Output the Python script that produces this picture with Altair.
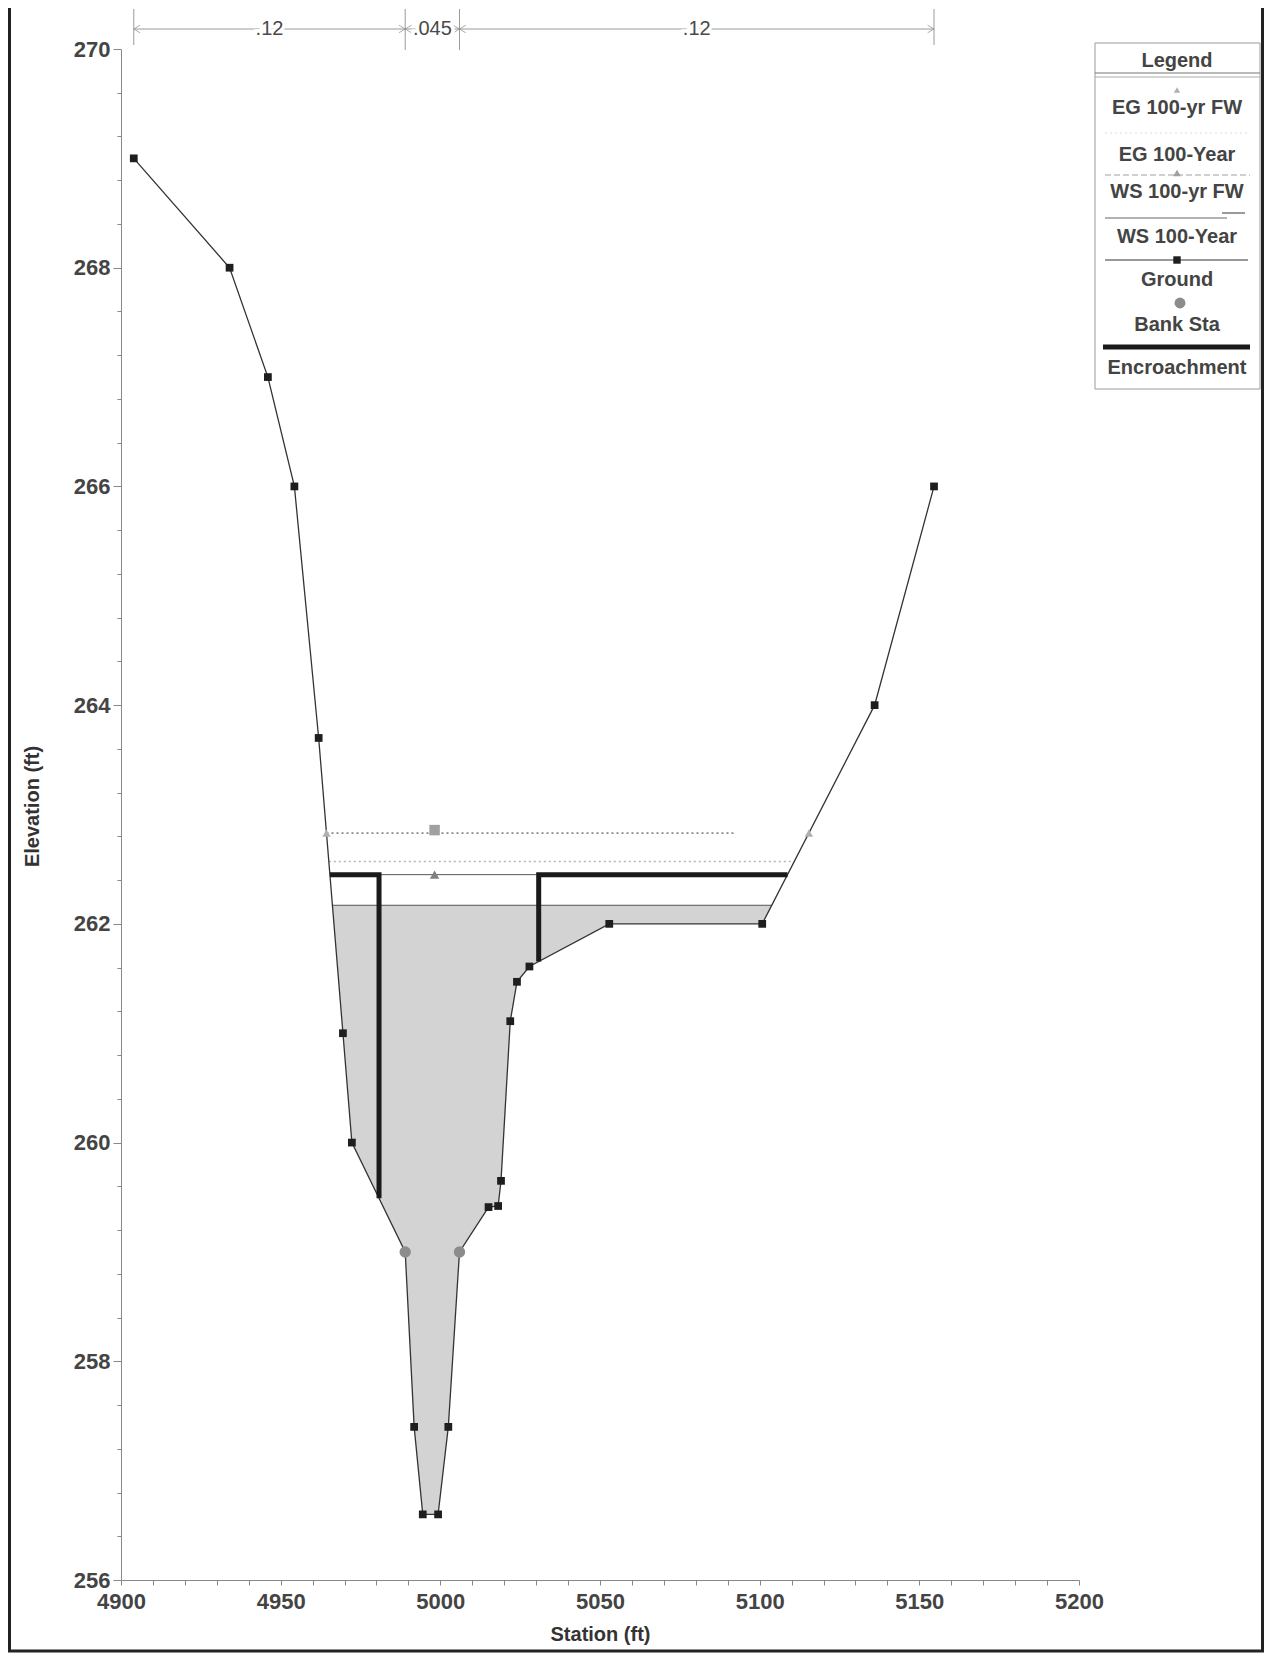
import altair as alt
import numpy as np
import pandas as pd

# ---------------- data ----------------
ground_sta = [4904, 4934, 4946, 4954.3, 4961.9, 4969.5, 4972.3, 4989, 4991.8, 4994.5,
              4999.3, 5002.5, 5006, 5015.1, 5018.1, 5019.0, 5021.9, 5024.0, 5027.9,
              5052.9, 5100.8, 5136, 5154.6]
ground_elev = [269, 268, 267, 266, 263.7, 261, 260, 259, 257.4, 256.6,
               256.6, 257.4, 259, 259.41, 259.42, 259.65, 261.11, 261.47, 261.61,
               262, 262, 264, 266]
bank_sta = [4989, 5006]
bank_elev = [259, 259]

ws_100yr = 262.17      # WS 100-Year
ws_fw = 262.45         # WS 100-yr FW
eg_100yr = 262.57      # EG 100-Year
eg_fw = 262.83         # EG 100-yr FW
eg_fw_end = 5092       # visible right end of the EG FW dotted line
enc_left = 4980.8
enc_right = 5030.8
ws_fw_marker_sta = 4998.2
eg_fw_marker_sta = 4998.2

n_labels = [".12", ".045", ".12"]
n_breaks = [4904, 4989, 5006, 5154.6]

x_domain = [4900, 5200]
y_domain = [256, 270]
x_tick_vals = list(range(4900, 5201, 10))
y_tick_vals = [round(256 + 0.4 * i, 1) for i in range(36)]

legend_labels = ["EG 100-yr FW", "EG 100-Year", "WS 100-yr FW", "WS 100-Year",
                 "Ground", "Bank Sta", "Encroachment"]

# ---------------- helpers ----------------
sta = np.array(ground_sta, dtype=float)
elv = np.array(ground_elev, dtype=float)


def cross(level, side):
    if side == "left":
        for i in range(len(sta) - 1):
            e0, e1 = elv[i], elv[i + 1]
            if e0 >= level > e1:
                return sta[i] + (e0 - level) / (e0 - e1) * (sta[i + 1] - sta[i])
    else:
        for i in range(len(sta) - 2, -1, -1):
            e0, e1 = elv[i], elv[i + 1]
            if e1 >= level > e0:
                return sta[i] + (level - e0) / (e1 - e0) * (sta[i + 1] - sta[i])
    return None


def gat(x):
    return float(np.interp(x, sta, elv))


W, H = 958, 1531
xs = alt.Scale(domain=x_domain, nice=False, zero=False)
ys = alt.Scale(domain=y_domain, nice=False, zero=False)
FONT = "Liberation Sans"
TXT = "#444444"

x_axis = alt.Axis(values=x_tick_vals, labelExpr="datum.value % 50 === 0 ? datum.label : ''",
                  grid=False, tickSize=5, tickColor="#888", domainColor="#888",
                  labelFont=FONT, labelFontSize=22, labelFontWeight="bold", labelColor=TXT,
                  labelPadding=6, labelOverlap=False, labelFlush=False,
                  title="Station (ft)", titleFont=FONT, titleFontSize=20, titleFontWeight="bold",
                  titleColor="#333", titleX=W / 2, titleY=54, titleAlign="center",
                  titleBaseline="middle", format="d")
y_axis = alt.Axis(values=y_tick_vals, labelExpr="datum.value % 2 === 0 ? datum.label : ''",
                  grid=False,
                  tickSize={"condition": {"test": "datum.value % 2 === 0", "value": 8}, "value": 4},
                  tickColor="#888", domainColor="#888",
                  labelFont=FONT, labelFontSize=22, labelFontWeight="bold", labelColor=TXT,
                  labelPadding=3, labelOverlap=False, labelFlush=False, format=".0f",
                  title="Elevation (ft)", titleFont=FONT, titleFontSize=20, titleFontWeight="bold",
                  titleColor="#333", titleX=-89, titleY=757, titleAngle=270, titleAlign="center",
                  titleBaseline="middle")


def X(f):
    return alt.X(f, scale=xs, axis=x_axis)


def Y(f):
    return alt.Y(f, scale=ys, axis=y_axis)


# water area
wl, wr = cross(ws_100yr, "left"), cross(ws_100yr, "right")
area_x = [wl] + [s for s in ground_sta if wl < s < wr] + [wr]
area_y = [ws_100yr] + [e for s, e in zip(ground_sta, ground_elev) if wl < s < wr] + [ws_100yr]
water = pd.DataFrame({"x": area_x, "y": area_y, "y2": ws_100yr})

ground = pd.DataFrame({"x": ground_sta, "y": ground_elev})
ground_pts = ground[~ground["x"].isin(bank_sta)]
banks = pd.DataFrame({"x": bank_sta, "y": bank_elev})

layers = []

# water
layers.append(alt.Chart(water).mark_area(color="#d3d3d3", opacity=1).encode(
    x=X("x:Q"), y=Y("y:Q"), y2="y2:Q"))

# WS 100-Year line
layers.append(alt.Chart(pd.DataFrame({"x": [wl], "x2": [wr], "y": [ws_100yr]})).mark_rule(
    color="#555", strokeWidth=1).encode(x=X("x:Q"), x2="x2:Q", y=Y("y:Q")))

# EG 100-Year dotted
layers.append(alt.Chart(pd.DataFrame({"x": [cross(eg_100yr, "left")], "x2": [cross(eg_100yr, "right")],
                                      "y": [eg_100yr]})).mark_rule(
    color="#b5b5b5", strokeWidth=1.6, strokeDash=[2, 3]).encode(x=X("x:Q"), x2="x2:Q", y=Y("y:Q")))

# EG 100-yr FW dotted
layers.append(alt.Chart(pd.DataFrame({"x": [cross(eg_fw, "left")], "x2": [eg_fw_end],
                                      "y": [eg_fw]})).mark_rule(
    color="#8a8a8a", strokeWidth=1.6, strokeDash=[2, 3]).encode(x=X("x:Q"), x2="x2:Q", y=Y("y:Q")))

# WS 100-yr FW line between encroachments
layers.append(alt.Chart(pd.DataFrame({"x": [enc_left], "x2": [enc_right], "y": [ws_fw]})).mark_rule(
    color="#555", strokeWidth=1).encode(x=X("x:Q"), x2="x2:Q", y=Y("y:Q")))

# Ground line & points
layers.append(alt.Chart(ground).mark_line(color="#333", strokeWidth=1.3).encode(
    x=X("x:Q"), y=Y("y:Q")))
layers.append(alt.Chart(ground_pts).mark_square(color="#1e1e1e", size=60, opacity=1).encode(
    x=X("x:Q"), y=Y("y:Q")))

# Encroachments
lfw, rfw = cross(ws_fw, "left"), cross(ws_fw, "right")
enc = pd.DataFrame({
    "x": [lfw, enc_left, enc_left, enc_right, enc_right, rfw],
    "y": [ws_fw, ws_fw, gat(enc_left), gat(enc_right), ws_fw, ws_fw],
    "g": ["L", "L", "L", "R", "R", "R"],
    "o": [0, 1, 2, 0, 1, 2]})
layers.append(alt.Chart(enc).mark_line(color="#1a1a1a", strokeWidth=5, strokeJoin="miter").encode(
    x=X("x:Q"), y=Y("y:Q"), detail="g:N", order="o:Q"))

# Bank stations
layers.append(alt.Chart(banks).mark_circle(color="#8c8c8c", size=130, opacity=1).encode(
    x=X("x:Q"), y=Y("y:Q")))

# markers
tri = pd.DataFrame({"x": [ws_fw_marker_sta], "y": [ws_fw]})
layers.append(alt.Chart(tri).mark_point(shape="triangle-up", filled=True, color="#808080", size=90,
                                        opacity=1).encode(x=X("x:Q"), y=Y("y:Q")))
eg_tri = pd.DataFrame({"x": [cross(eg_fw, "left"), cross(eg_fw, "right")], "y": [eg_fw, eg_fw]})
layers.append(alt.Chart(eg_tri).mark_point(shape="triangle-up", filled=True, color="#b0b0b0", size=70,
                                           opacity=1).encode(x=X("x:Q"), y=Y("y:Q")))
sq = pd.DataFrame({"x": [eg_fw_marker_sta], "y": [eg_fw]})
layers.append(alt.Chart(sq).mark_square(color="#a0a0a0", size=110, opacity=1).encode(
    x=X("x:Q"), y=Y("y:Q"), yOffset=alt.value(-3)))

# ---------------- Manning's n annotation ----------------
ny = -20
outer = pd.DataFrame({"x": [n_breaks[0], n_breaks[-1]]})
inner = pd.DataFrame({"x": n_breaks[1:-1]})
layers.append(alt.Chart(outer).mark_rule(color="#9a9a9a", strokeWidth=1).encode(
    x=X("x:Q"), y=alt.value(-40), y2=alt.value(-4)))
layers.append(alt.Chart(inner).mark_rule(color="#9a9a9a", strokeWidth=1).encode(
    x=X("x:Q"), y=alt.value(-40), y2=alt.value(1)))
spans = pd.DataFrame({"a": n_breaks[:-1], "b": n_breaks[1:], "lab": n_labels})
spans["mid"] = (spans["a"] + spans["b"]) / 2
layers.append(alt.Chart(spans).mark_rule(color="#9a9a9a", strokeWidth=1).encode(
    x=X("a:Q"), x2="b:Q", y=alt.value(ny)))
layers.append(alt.Chart(spans).mark_point(shape="M 1 -0.6 L 0 0 L 1 0.6", filled=False,
                                          color="#8a8a8a", size=160, strokeWidth=1).encode(
    x=X("a:Q"), y=alt.value(ny)))
layers.append(alt.Chart(spans).mark_point(shape="M -1 -0.6 L 0 0 L -1 0.6", filled=False,
                                          color="#8a8a8a", size=160, strokeWidth=1).encode(
    x=X("b:Q"), y=alt.value(ny)))
layers.append(alt.Chart(spans).mark_text(font=FONT, fontSize=20, color="white", stroke="white",
                                         strokeWidth=7, baseline="middle").encode(
    x=X("mid:Q"), y=alt.value(ny), text="lab:N"))
layers.append(alt.Chart(spans).mark_text(font=FONT, fontSize=20, color="#4a4a4a",
                                         baseline="middle").encode(
    x=X("mid:Q"), y=alt.value(ny), text="lab:N"))

# ---------------- Legend (drawn by hand, in pixels) ----------------
one = pd.DataFrame({"k": [0]})
LX0, LX1, LC = 974, 1139, 1056


def prule(x1, x2, y, color, width, dash=None):
    kw = dict(color=color, strokeWidth=width)
    if dash:
        kw["strokeDash"] = dash
    return alt.Chart(one).mark_rule(**kw).encode(x=alt.value(x1), x2=alt.value(x2), y=alt.value(y))


layers.append(alt.Chart(one).mark_rect(fill="white", stroke="#9a9a9a", strokeWidth=1).encode(
    x=alt.value(LX0), x2=alt.value(LX1), y=alt.value(-6), y2=alt.value(340)))
layers.append(prule(LX0, LX1, 24, "#777", 1))
layers.append(prule(LX0, LX1, 28, "#aaa", 1))
layers.append(alt.Chart(one).mark_text(text="Legend", font=FONT, fontSize=20, fontWeight="bold",
                                       color=TXT, baseline="middle").encode(
    x=alt.value(LC), y=alt.value(11.5)))
label_y = [59, 106, 143, 188, 231, 276, 319]
for lab, yy in zip(legend_labels, label_y):
    layers.append(alt.Chart(one).mark_text(text=lab, font=FONT, fontSize=20, fontWeight="bold",
                                           color=TXT, baseline="middle").encode(
        x=alt.value(LC), y=alt.value(yy)))
# symbols
layers.append(alt.Chart(one).mark_point(shape="triangle-up", filled=True, color="#b0b0b0", size=40,
                                        opacity=1).encode(x=alt.value(LC), y=alt.value(41)))
layers.append(prule(984, 1129, 84, "#dddddd", 1.2, [2, 3]))
layers.append(prule(984, 1129, 126, "#a0a0a0", 1.2, [6, 3]))
layers.append(alt.Chart(one).mark_point(shape="triangle-up", filled=True, color="#a0a0a0", size=60,
                                        opacity=1).encode(x=alt.value(LC), y=alt.value(124)))
layers.append(prule(1101, 1124, 164, "#9a9a9a", 2))
layers.append(prule(984, 1106, 169, "#666", 1))
layers.append(prule(984, 1127, 211, "#333", 1))
layers.append(alt.Chart(one).mark_square(color="#1e1e1e", size=55, opacity=1).encode(
    x=alt.value(LC), y=alt.value(211)))
layers.append(alt.Chart(one).mark_circle(color="#8c8c8c", size=120, opacity=1).encode(
    x=alt.value(LC + 3), y=alt.value(254)))
layers.append(prule(982, 1129, 298, "#1a1a1a", 5))

# ---------------- page frame ----------------
layers.append(prule(-113, 1143, 1602, "#222", 3))
layers.append(alt.Chart(one).mark_rule(color="#222", strokeWidth=3).encode(
    x=alt.value(-111.5), y=alt.value(-41), y2=alt.value(1603)))
layers.append(alt.Chart(one).mark_rule(color="#222", strokeWidth=3).encode(
    x=alt.value(1141.5), y=alt.value(-41), y2=alt.value(1603)))

chart = alt.layer(*layers).properties(
    width=W, height=H,
    autosize=alt.AutoSizeParams(type="none"),
    padding={"left": 113, "top": 41, "right": 185, "bottom": 73},
    background="white",
).configure_view(stroke=None)

chart.save("out.html", embed_options={"renderer": "svg", "actions": False})
